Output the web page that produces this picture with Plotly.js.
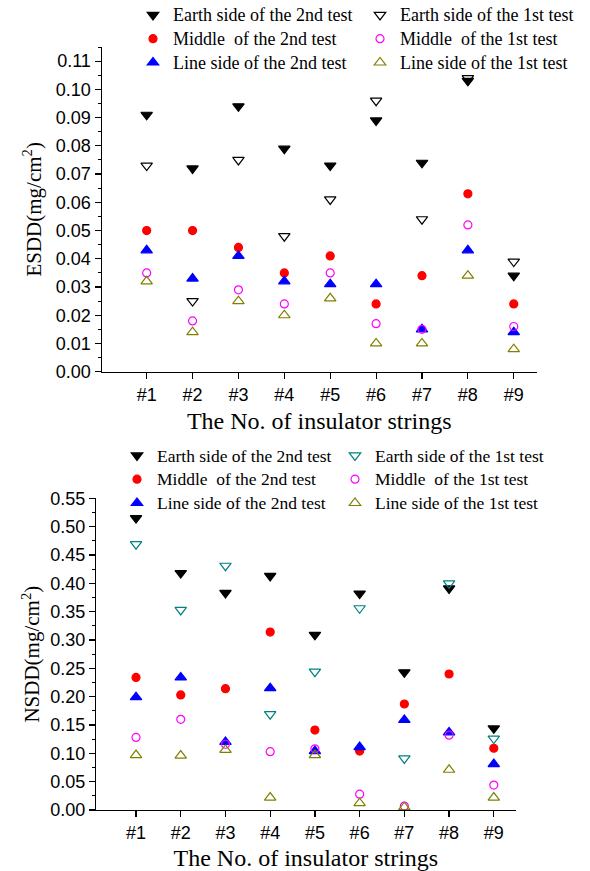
<!DOCTYPE html>
<html><head><meta charset="utf-8">
<script src="https://cdn.plot.ly/plotly-3.0.1.min.js"></script>
<style>body{margin:0;background:#fff}#chart{width:590px;height:871px}</style>
</head><body><div id="chart"></div>
<script>
const categories = ['#1','#2','#3','#4','#5','#6','#7','#8','#9'];

// ESDD (mg/cm2)
const esddEarth2  = [0.091,0.072,0.094,0.079,0.073,0.089,0.074,0.103,0.034];
const esddMiddle2 = [0.050,0.050,0.044,0.035,0.041,0.024,0.034,0.063,0.024];
const esddLine2   = [0.043,0.033,0.041,0.032,0.031,0.031,0.015,0.043,0.014];
const esddEarth1  = [0.073,0.025,0.075,0.048,0.061,0.096,0.054,0.104,0.039];
const esddMiddle1 = [0.035,0.018,0.029,0.024,0.035,0.017,0.015,0.052,0.016];
const esddLine1   = [0.032,0.014,0.025,0.020,0.026,0.010,0.010,0.034,0.008];

// NSDD (mg/cm2)
const nsddEarth2  = [0.515,0.418,0.383,0.413,0.309,0.382,0.243,0.391,0.144];
const nsddMiddle2 = [0.234,0.203,0.214,0.314,0.141,0.104,0.187,0.240,0.109];
const nsddLine2   = [0.199,0.234,0.120,0.215,0.104,0.111,0.159,0.137,0.081];
const nsddEarth1  = [0.469,0.353,0.431,0.169,0.244,0.356,0.091,0.400,0.126];
const nsddMiddle1 = [0.128,0.160,0.116,0.103,0.108,0.028,0.007,0.132,0.044];
const nsddLine1   = [0.097,0.096,0.106,0.022,0.097,0.012,0.005,0.071,0.022];

const seriesNames = ['Earth side of the 2nd test','Middle&nbsp; of the 2nd test','Line side of the 2nd test',
                     'Earth side of the 1st test','Middle&nbsp; of the 1st test','Line side of the 1st test'];

const SERIF = '"Times New Roman", "Liberation Serif", serif';
const SANS = 'Arial, "Liberation Sans", sans-serif';

function styles(earth1Color){
  return [
    {symbol:'triangle-down', color:'#000000', size:10, rank:1},
    {symbol:'circle', color:'#ff0000', size:8, rank:3},
    {symbol:'triangle-up', color:'#0000ff', size:10, rank:5},
    {symbol:'triangle-down-open', color:earth1Color, size:10, rank:2},
    {symbol:'circle-open', color:'#ff00ff', size:8, rank:4},
    {symbol:'triangle-up-open', color:'#808000', size:10, rank:6}
  ];
}

function makeTraces(series, xa, ya, legendId, earth1Color, fs){
  const st = styles(earth1Color);
  return series.map((vals,i)=>({
    type:'scatter', mode:'markers', x:categories, y:vals,
    xaxis:xa, yaxis:ya, legend:legendId,
    name:'<span style="font-size:'+fs+'px">'+seriesNames[i]+'</span>',
    legendrank:st[i].rank,
    marker:{symbol:st[i].symbol, color:st[i].color, size:st[i].size,
            line:{color:st[i].color, width:1.2}},
    hoverinfo:'x+y'
  }));
}

const traces = [
  ...makeTraces([esddEarth2,esddMiddle2,esddLine2,esddEarth1,esddMiddle1,esddLine1],'x','y','legend','#000000',18),
  ...makeTraces([nsddEarth2,nsddMiddle2,nsddLine2,nsddEarth1,nsddMiddle1,nsddLine1],'x2','y2','legend2','#008080',17.5)
];

const W = 590, H = 871;
function xd(l,r){return [l/W, r/W];}
function yd(b,t){return [1-b/H, 1-t/H];}

const axisCommon = {
  showline:true, linecolor:'#000', linewidth:1.2, showgrid:false, zeroline:false,
  ticks:'outside', tickcolor:'#000', tickwidth:1.2,
  tickfont:{family:SANS, size:18, color:'#000'}
};

const layout = {
  width:W, height:H, margin:{l:0,r:0,t:0,b:0,autoexpand:false},
  paper_bgcolor:'#fff', plot_bgcolor:'#fff',
  showlegend:true,
  font:{family:SERIF, color:'#000'},
  xaxis:Object.assign({}, axisCommon, {
    domain:xd(101.7,536.7), anchor:'y', type:'category', range:[-0.98,8.5], ticklen:6,
    title:{text:'The No. of insulator strings', font:{family:SERIF, size:24, color:'#000'}, standoff:8}
  }),
  yaxis:Object.assign({}, axisCommon, {
    domain:yd(371.7,47), anchor:'x', range:[0,0.115], dtick:0.01, tick0:0, tickformat:'.2f', ticklen:6,
    minor:{ticks:'outside', ticklen:3, dtick:0.005, tick0:0, tickcolor:'#000', tickwidth:1},
    title:{text:'ESDD(mg/cm<sup>2</sup>)', font:{family:SERIF, size:21, color:'#000'}, standoff:8}
  }),
  xaxis2:Object.assign({}, axisCommon, {
    domain:xd(96,515.7), anchor:'y2', type:'category', range:[-0.895,8.49], ticklen:6,
    title:{text:'The No. of insulator strings', font:{family:SERIF, size:24, color:'#000'}, standoff:8}
  }),
  yaxis2:Object.assign({}, axisCommon, {
    domain:yd(810,498.3), anchor:'x2', range:[0,0.55], dtick:0.05, tick0:0, tickformat:'.2f', ticklen:6,
    minor:{ticks:'outside', ticklen:3, dtick:0.025, tick0:0, tickcolor:'#000', tickwidth:1},
    title:{text:'NSDD(mg/cm<sup>2</sup>)', font:{family:SERIF, size:21, color:'#000'}, standoff:4}
  }),
  legend:{
    orientation:'h', xref:'paper', yref:'paper', x:133/W, y:1+2/H,
    xanchor:'left', yanchor:'top', entrywidth:182, entrywidthmode:'pixels',
    font:{family:SERIF, size:16, color:'#000'}, bgcolor:'rgba(0,0,0,0)', traceorder:'normal'
  },
  legend2:{
    orientation:'h', xref:'paper', yref:'paper', x:117/W, y:1-438.5/H,
    xanchor:'left', yanchor:'top', entrywidth:173, entrywidthmode:'pixels',
    font:{family:SERIF, size:16, color:'#000'}, bgcolor:'rgba(0,0,0,0)', traceorder:'normal'
  }
};

Plotly.newPlot('chart', traces, layout, {displayModeBar:false, staticPlot:true});
</script>
</body></html>
